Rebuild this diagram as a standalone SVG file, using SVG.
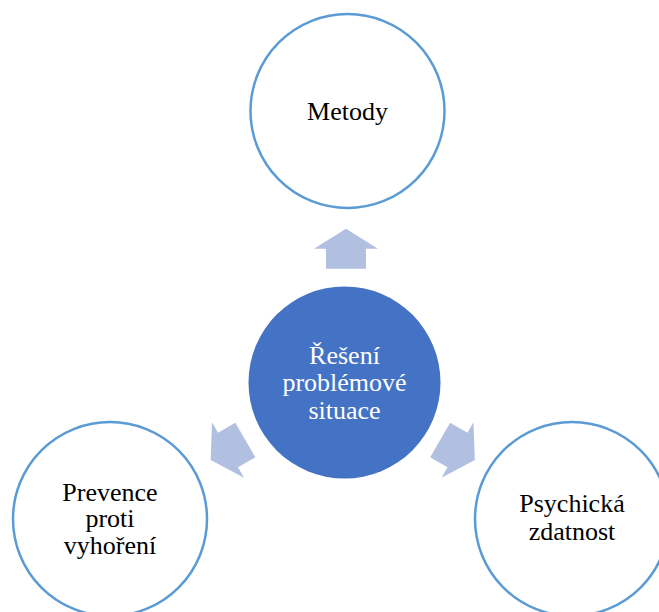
<svg xmlns="http://www.w3.org/2000/svg" width="659" height="612" viewBox="0 0 659 612">
  <defs>
    <style>
      .outer { fill: #ffffff; stroke: #5b9bd5; stroke-width: 2.5; }
      .hub { fill: #4472c4; stroke: none; }
      .lbl { font-family: "Liberation Serif", "Times New Roman", serif; font-size: 26px; text-anchor: middle; fill: #000000; }
      .hub-lbl { fill: #ffffff; }
      .arrow { fill: #b1bfe1; }
    </style>
    <!-- block arrow pointing along +x, centred on the origin -->
    <path id="blockArrow" d="M -20 -20 L 0 -20 L 0 -32 L 20 0 L 0 32 L 0 20 L -20 20 Z"/>
  </defs>

  <g id="connectors">
    <use href="#blockArrow" class="arrow" transform="translate(346 248.75) rotate(-90)"/>
    <use href="#blockArrow" class="arrow" transform="translate(228 450) rotate(150)"/>
    <use href="#blockArrow" class="arrow" transform="translate(457.5 450) rotate(30)"/>
  </g>

  <g id="node-center">
    <circle class="hub" cx="344.5" cy="382.5" r="96"/>
    <text class="lbl hub-lbl" x="344.5" y="363.5">Řešení</text>
    <text class="lbl hub-lbl" x="344.5" y="391">problémové</text>
    <text class="lbl hub-lbl" x="344.5" y="418.5">situace</text>
  </g>

  <g id="node-metody">
    <circle class="outer" cx="347.5" cy="111" r="97"/>
    <text class="lbl" x="347.5" y="120">Metody</text>
  </g>

  <g id="node-prevence">
    <circle class="outer" cx="110" cy="519" r="97"/>
    <text class="lbl" x="110" y="500.5">Prevence</text>
    <text class="lbl" x="110" y="527">proti</text>
    <text class="lbl" x="110" y="554">vyhoření</text>
  </g>

  <g id="node-psychicka">
    <circle class="outer" cx="572" cy="519" r="97"/>
    <text class="lbl" x="572" y="512">Psychická</text>
    <text class="lbl" x="572" y="539.5">zdatnost</text>
  </g>
</svg>
